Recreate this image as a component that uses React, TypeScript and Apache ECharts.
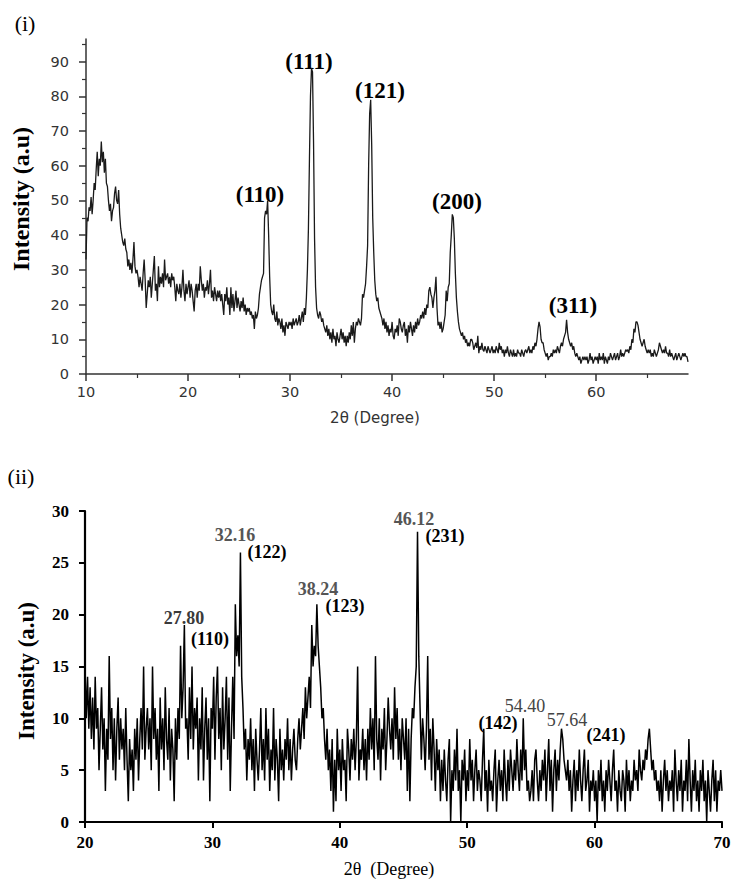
import { useEffect, useRef } from "react";
import * as echarts from "echarts";

// ---------- Panel (i) ----------
const TOP_X_START = 10;
const TOP_X_STEP = 0.1;
// intensity per 0.1 degree, 10.0 .. 69.0
const topIntensity: number[] = [
  33, 45, 44, 48, 47, 51, 46, 50, 55, 53,
  59, 64, 57, 62, 60, 67, 61, 64, 58, 62,
  55, 54, 50, 47, 49, 44, 47, 48, 52, 54,
  50, 49, 53, 46, 42, 40, 38, 37, 39, 36,
  35, 31, 33, 30, 32, 29, 33, 38, 31, 29,
  30, 28, 25, 28, 26, 24, 29, 33, 27, 19,
  23, 27, 25, 28, 22, 26, 30, 34, 24, 26,
  21, 31, 25, 28, 26, 29, 25, 33, 27, 28,
  29, 26, 28, 25, 29, 27, 28, 25, 21, 26,
  24, 23, 26, 22, 25, 30, 24, 21, 26, 23,
  25, 27, 22, 26, 24, 21, 18, 24, 26, 22,
  26, 24, 31, 27, 24, 26, 22, 25, 24, 27,
  23, 26, 30, 22, 24, 21, 25, 23, 21, 24,
  22, 24, 21, 23, 20, 17, 23, 21, 25, 20,
  22, 17, 25, 19, 23, 18, 21, 24, 19, 22,
  20, 18, 21, 19, 22, 18, 20, 17, 19, 18,
  19, 17, 18, 16, 17, 13, 18, 16, 17, 19,
  23, 25, 27, 28, 29, 45, 47, 46, 50, 40,
  28, 20, 18, 17, 20, 16, 15, 18, 14, 16,
  15, 13, 16, 12, 14, 11, 15, 14, 13, 15,
  14, 15, 13, 16, 14, 15, 16, 14, 15, 17,
  14, 16, 18, 15, 19, 17, 22, 30, 42, 62,
  80, 88, 87, 67, 39, 25, 19, 17, 16, 18,
  17, 15, 16, 14, 13, 12, 14, 11, 13, 10,
  12, 9, 13, 10, 11, 8, 12, 10, 9, 11,
  13, 10, 12, 9, 11, 8, 11, 9, 12, 10,
  14, 11, 15, 9, 13, 15, 14, 16, 15, 14,
  16, 23, 22, 24, 26, 31, 37, 60, 75, 79,
  66, 45, 35, 27, 23, 21, 22, 19, 18, 17,
  16, 14, 16, 13, 15, 12, 14, 11, 13, 12,
  15, 11, 10, 13, 12, 14, 11, 16, 15, 13,
  12, 14, 15, 11, 13, 9, 14, 12, 15, 13,
  11, 14, 12, 15, 13, 16, 14, 15, 17, 16,
  18, 16, 19, 17, 20, 19, 24, 25, 23, 22,
  19, 22, 24, 28, 19, 14, 15, 13, 15, 12,
  13, 15, 17, 24, 21, 25, 26, 35, 40, 46,
  45, 39, 29, 22, 18, 15, 13, 12, 11, 12,
  10, 11, 9, 10, 8, 9, 8, 10, 10, 9,
  7, 8, 9, 7.5, 11, 6, 8, 7, 9, 7,
  6.5, 8, 7, 6, 8, 7, 6, 7, 8, 6,
  7, 6, 8, 7, 6, 9, 7, 8, 6, 7,
  5, 7, 6, 8, 6, 5, 7, 6, 5, 7,
  5, 6, 5, 7, 6, 6, 5, 7, 6, 5,
  6.5, 7, 6, 7, 8, 6, 7, 6, 8, 7,
  9, 8, 10, 13, 15, 13.6, 10, 9, 9, 7,
  6, 5, 6, 4, 5, 5, 6, 5, 7, 6,
  7, 6, 8, 7, 6, 8, 9, 8, 10, 11,
  12, 15.6, 12, 10, 9, 8, 9, 7, 8, 6,
  5, 6, 5, 4, 5, 3, 4, 5, 4, 5,
  4, 5, 3, 4, 6, 4, 5, 3, 4, 5,
  4, 5, 3, 6, 4, 5, 4, 6, 3, 5,
  4, 3, 5, 4, 6, 5, 4, 5, 6, 4,
  5, 6, 4, 5, 7, 5, 6, 5, 6, 7,
  6.5, 7, 6, 8, 7, 10, 9, 13, 12, 15,
  15, 14, 12, 10, 9, 8, 9, 10, 8, 7,
  6, 7, 6, 7, 5, 6, 5, 7, 6, 5,
  6, 7, 9, 8, 7, 6, 7, 6, 8, 6,
  6, 5, 7, 5, 6, 5, 4, 5, 6, 4,
  5, 6, 5, 4, 5, 6, 5, 6, 5, 5,
  3.5,
];
const topMajorX = [10, 20, 30, 40, 50, 60];
const topMinorX = [15, 25, 35, 45, 55, 65];
const topMajorY = [0, 10, 20, 30, 40, 50, 60, 70, 80, 90];
const topMinorY = [5, 15, 25, 35, 45, 55, 65, 75, 85, 95];
const topPlanes = ["(110)", "(111)", "(121)", "(200)", "(311)"];

// ---------- Panel (ii) ----------
const BOT_X_START = 20;
const BOT_X_STEP = 0.1;
// intensity per 0.1 degree, 20.0 .. 70.0
const bottomIntensity: number[] = [
  15, 10, 14, 9, 13, 8, 12, 7, 14, 9,
  11, 5, 9, 13, 7, 10, 3, 9, 6, 16,
  8, 11, 5, 10, 4, 9, 12, 6, 10, 7,
  9, 5, 11, 6, 2, 8, 5, 7, 3, 9,
  6, 10, 4, 8, 11, 7, 15, 6, 9, 11,
  7, 10, 5, 15, 8, 11, 6, 9, 3, 12,
  7, 10, 5, 13, 8, 6, 11, 4, 9, 7,
  2, 10, 6, 11, 8, 17, 10, 13, 19, 9,
  10, 6, 13, 8, 15, 7, 11, 9, 12, 4,
  10, 7, 13, 4, 9, 12, 6, 10, 2, 11,
  9, 14, 6, 12, 15, 8, 11, 5, 13, 7,
  10, 14, 6, 12, 3, 9, 14, 8, 21, 16,
  18, 15, 26, 14, 11, 7, 9, 4, 8, 6,
  10, 5, 8, 3, 9, 6, 4, 7, 11, 5,
  8, 4, 11, 6, 9, 3, 7, 5, 11, 4,
  8, 6, 2, 9, 5, 7, 4, 8, 6, 10,
  5, 8, 4, 7, 9, 6, 5, 8, 10, 7,
  9, 11, 8, 13, 10, 12, 14, 11, 19, 15,
  17, 16, 21, 17, 15, 13, 10, 11, 8, 6,
  9, 5, 7, 3, 8, 1, 6, 2, 9, 5,
  7, 3, 8, 5, 6, 2, 9, 7, 4, 8,
  6, 9, 5, 8, 15, 4, 7, 6, 9, 5,
  8, 4, 9, 6, 11, 7, 10, 5, 16, 8,
  6, 10, 4, 9, 7, 11, 5, 8, 12, 9,
  7, 10, 6, 13, 8, 11, 6, 9, 5, 10,
  8, 6, 10, 3, 9, 2, 8, 11, 10, 13,
  15, 28, 16, 11, 6, 10, 8, 5, 9, 16,
  6, 9, 4, 10, 7, 3, 8, 5, 7, 2,
  6, 3, 7, 4, 2, 6, 8, 0, 5, 3,
  7, 4, 9, 3, 5, 0, 6, 4, 7, 2,
  5, 3, 8, 4, 6, 2, 5, 7, 3, 5,
  4, 2, 6, 9, 3, 5, 1, 6, 3, 4,
  2, 5, 7, 1, 4, 6, 3, 5, 2, 7,
  4, 2, 6, 3, 7, 5, 3, 6, 4, 8,
  5, 3, 7, 4, 10, 5, 7, 3, 4, 2,
  3, 5, 2, 6, 7, 4, 2, 5, 3, 6,
  4, 7, 2, 5, 8, 3, 6, 1, 5, 7,
  3, 6, 4, 7, 9, 8, 6, 5, 4, 6,
  3, 5, 1, 4, 6, 2, 5, 3, 7, 4,
  2, 5, 7, 3, 4, 6, 1, 4, 3, 5,
  2, 4, 0, 5, 3, 6, 2, 4, 1, 5,
  3, 6, 4, 2, 5, 7, 3, 4, 1, 5,
  3, 2, 5, 4, 1, 6, 3, 5, 2, 4,
  3, 6, 4, 5, 3, 7, 5, 4, 6, 5,
  7, 6, 8, 9, 7, 5, 6, 4, 5, 3,
  4, 2, 5, 1, 4, 6, 3, 5, 2, 4,
  3, 5, 1, 7, 4, 2, 5, 3, 6, 1,
  4, 3, 6, 2, 8, 4, 1, 5, 3, 6,
  2, 4, 1, 5, 3, 6, 2, 4, 0, 5,
  3, 1, 4, 6, 2, 5, 1, 4, 3, 5,
  3,
];
const bottomPeakAngles = ["27.80", "32.16", "38.24", "46.12", "54.40", "57.64"];
const bottomPlanes = ["(110)", "(122)", "(123)", "(231)", "(142)", "(241)"];

const toPairs = (start: number, step: number, vals: number[]) =>
  vals.map((v, i) => [Math.round((start + i * step) * 100) / 100, v]);

const SERIF = '"Liberation Serif", "Times New Roman", serif';
const SANS = '"DejaVu Sans", Verdana, sans-serif';

function txt(text: string, x: number, y: number, font: string, fill = "#000", rotation = 0) {
  return {
    type: "text",
    x,
    y,
    rotation,
    silent: true,
    style: {
      text,
      font,
      fill,
      textAlign: "center",
      textVerticalAlign: "middle",
      align: "center",
      verticalAlign: "middle",
    },
  };
}

export default function App() {
  const ref = useRef<HTMLDivElement>(null);
  useEffect(() => {
    if (!ref.current) return;
    const chart = echarts.init(ref.current, undefined, { renderer: "svg" });
    const topAxisColor = "#333";
    const option: any = {
      animation: false,
      backgroundColor: "#fff",
      grid: [
        { left: 86, top: 39, width: 602, height: 335 },
        { left: 85, top: 511, width: 637, height: 311 },
      ],
      xAxis: [
        {
          type: "value",
          gridIndex: 0,
          position: "bottom",
          min: 10,
          max: 69,
          splitLine: { show: false },
          axisLine: { show: true, onZero: false, lineStyle: { color: topAxisColor, width: 1.5 } },
          axisTick: { show: true, customValues: topMajorX, length: 7, lineStyle: { color: topAxisColor, width: 1.5 } },
          axisLabel: { show: true, customValues: topMajorX, margin: 10, color: "#333", fontFamily: SANS, fontSize: 14.5 },
        },
        {
          type: "value",
          gridIndex: 0,
          position: "bottom",
          min: 10,
          max: 69,
          splitLine: { show: false },
          axisLine: { show: false, onZero: false },
          axisTick: { show: true, customValues: topMinorX, length: 4, lineStyle: { color: topAxisColor, width: 1.2 } },
          axisLabel: { show: false },
        },
        {
          type: "value",
          gridIndex: 1,
          position: "bottom",
          min: 20,
          max: 70,
          interval: 10,
          splitLine: { show: false },
          axisLine: { show: true, onZero: false, lineStyle: { color: "#000", width: 2.2 } },
          axisTick: { show: true, length: 6, lineStyle: { color: "#000", width: 2 } },
          axisLabel: { margin: 12, color: "#000", fontFamily: SERIF, fontWeight: "bold", fontSize: 17 },
        },
      ],
      yAxis: [
        {
          type: "value",
          gridIndex: 0,
          position: "left",
          min: 0,
          max: 96.5,
          splitLine: { show: false },
          axisLine: { show: true, onZero: false, lineStyle: { color: topAxisColor, width: 1.5 } },
          axisTick: { show: true, customValues: topMajorY, length: 7, lineStyle: { color: topAxisColor, width: 1.5 } },
          axisLabel: { show: true, customValues: topMajorY, margin: 17, color: "#333", fontFamily: SANS, fontSize: 14.5 },
        },
        {
          type: "value",
          gridIndex: 0,
          position: "left",
          min: 0,
          max: 96.5,
          splitLine: { show: false },
          axisLine: { show: false, onZero: false },
          axisTick: { show: true, customValues: topMinorY, length: 4, lineStyle: { color: topAxisColor, width: 1.2 } },
          axisLabel: { show: false },
        },
        {
          type: "value",
          gridIndex: 1,
          position: "left",
          min: 0,
          max: 30,
          interval: 5,
          splitLine: { show: false },
          axisLine: { show: true, onZero: false, lineStyle: { color: "#000", width: 2.2 } },
          axisTick: { show: true, length: 6, lineStyle: { color: "#000", width: 2 } },
          axisLabel: { margin: 16, color: "#000", fontFamily: SERIF, fontWeight: "bold", fontSize: 17 },
        },
      ],
      series: [
        {
          type: "line",
          xAxisIndex: 0,
          yAxisIndex: 0,
          data: toPairs(TOP_X_START, TOP_X_STEP, topIntensity),
          showSymbol: false,
          symbol: "none",
          lineStyle: { color: "#1a1a1a", width: 1.3 },
          silent: true,
        },
        {
          type: "line",
          xAxisIndex: 2,
          yAxisIndex: 2,
          data: toPairs(BOT_X_START, BOT_X_STEP, bottomIntensity),
          showSymbol: false,
          symbol: "none",
          lineStyle: { color: "#000", width: 1.5 },
          silent: true,
        },
      ],
      graphic: [
        txt("(i)", 25, 23, `22px ${SERIF}`),
        txt("(ii)", 21, 476, `22px ${SERIF}`),
        txt("Intensity (a.u)", 21, 199, `bold 24px ${SERIF}`, "#000", Math.PI / 2),
        txt("Intensity (a.u)", 26, 671, `bold 23px ${SERIF}`, "#000", Math.PI / 2),
        txt("2θ (Degree)", 375, 418, `15px ${SANS}`, "#333"),
        txt("2θ  (Degree)", 389, 869, `18px ${SERIF}`),
        // panel (i) planes
        txt(topPlanes[0], 260, 194, `bold 23px ${SERIF}`),
        txt(topPlanes[1], 309, 61, `bold 23px ${SERIF}`),
        txt(topPlanes[2], 380, 90, `bold 23px ${SERIF}`),
        txt(topPlanes[3], 457, 201, `bold 23px ${SERIF}`),
        txt(topPlanes[4], 573, 305, `bold 23px ${SERIF}`),
        // panel (ii) angles and planes
        txt(bottomPeakAngles[0], 184, 618, `bold 18px ${SERIF}`, "#3a3a3a"),
        txt(bottomPlanes[0], 210, 639, `bold 18px ${SERIF}`),
        txt(bottomPeakAngles[1], 235, 535, `bold 18px ${SERIF}`, "#555"),
        txt(bottomPlanes[1], 267, 552, `bold 18px ${SERIF}`),
        txt(bottomPeakAngles[2], 318, 589, `bold 18px ${SERIF}`, "#555"),
        txt(bottomPlanes[2], 345, 606, `bold 18px ${SERIF}`),
        txt(bottomPeakAngles[3], 414, 519, `bold 18px ${SERIF}`, "#555"),
        txt(bottomPlanes[3], 445, 536, `bold 18px ${SERIF}`),
        txt(bottomPlanes[4], 498, 723, `bold 18px ${SERIF}`),
        txt(bottomPeakAngles[4], 525, 706, `18px ${SERIF}`, "#444"),
        txt(bottomPeakAngles[5], 567, 720, `18px ${SERIF}`, "#444"),
        txt(bottomPlanes[5], 606, 735, `bold 18px ${SERIF}`),
      ],
    };
    chart.setOption(option);
    return () => chart.dispose();
  }, []);
  return (
    <div
      ref={ref}
      style={{ position: "absolute", left: 0, top: 0, width: 738, height: 879, background: "#fff" }}
    />
  );
}
